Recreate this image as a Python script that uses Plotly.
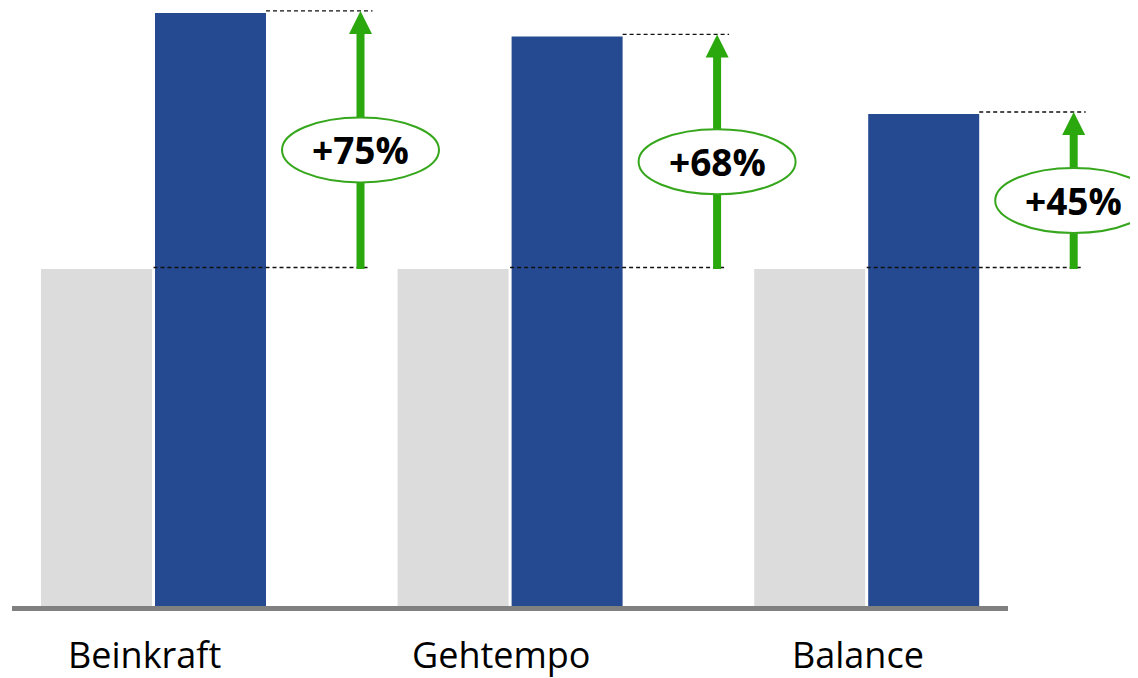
import plotly.graph_objects as go

# ---- data ----
categories = ["Beinkraft", "Gehtempo", "Balance"]
baseline = [100, 100, 100]
after = [176, 169, 146]
gain_labels = ["+75%", "+68%", "+45%"]

# ---- layout constants (pixels) ----
OFF = 8                       # page body margin of the browser
W, H = 1138 - OFF, 678 - OFF  # figure size so the page does not overflow
PX_X = 356.6                  # pixels per category step
X0 = 153.5 - OFF              # figure pixel of category 0 centre
PX_Y = 3.37                   # pixels per value unit
Y0 = 606 - OFF                # figure pixel of value 0

def dx(px):
    return px / PX_X

def dy(px):
    return px / PX_Y

BLUE = "#254A91"
GRAY = "#DCDCDC"
GREEN = "#2BA80E"
GREEN_RING = "#36A71C"
FONT = "Open Sans"

BARGAP = 1 - 228 / PX_X
idx = list(range(len(categories)))

fig = go.Figure()
fig.add_bar(x=idx, y=baseline, marker_color=GRAY, marker_line_width=0, name="vorher", hoverinfo="skip")
fig.add_bar(x=idx, y=after, marker_color=BLUE, marker_line_width=0, name="nachher", hoverinfo="skip")

shapes = []
annotations = []
group_w = 1 - BARGAP
DASH = dict(color="#111111", width=1.3, dash="4px,3px")
for i, (b, a, lab, cat) in enumerate(zip(baseline, after, gain_labels, categories)):
    ax = i + dx(207)
    blue_right = i + group_w / 2 - dx(1.5)
    # dashed reference lines
    shapes.append(dict(type="line", xref="x", yref="y", x0=blue_right, x1=ax + dx(12),
                       y0=a + dy(2), y1=a + dy(2), line=DASH, layer="above"))
    shapes.append(dict(type="line", xref="x", yref="y", x0=i, x1=ax + dx(9),
                       y0=b + dy(1.5), y1=b + dy(1.5), line=DASH, layer="above"))
    # arrow shaft
    shapes.append(dict(type="line", xref="x", yref="y", x0=ax, x1=ax, y0=b, y1=a - dy(20),
                       line=dict(color=GREEN, width=8), layer="above"))
    # arrow head
    tip = a + dy(2)
    hb = tip - dy(23)
    shapes.append(dict(type="path", xref="x", yref="y",
                       path=f"M {ax - dx(11.5)},{hb} L {ax + dx(11.5)},{hb} L {ax},{tip} Z",
                       fillcolor=GREEN, line=dict(width=0), layer="above"))
    # ellipse
    ecy = (a + b) / 2 - dy(9)
    shapes.append(dict(type="circle", xref="x", yref="y",
                       x0=ax - dx(78.5), x1=ax + dx(78.5), y0=ecy - dy(32.5), y1=ecy + dy(32.5),
                       fillcolor="white", line=dict(color=GREEN_RING, width=2), layer="above"))
    annotations.append(dict(x=ax, y=ecy, xref="x", yref="y", text=lab, showarrow=False,
                            font=dict(family=FONT, size=37, color="black", weight=700),
                            xanchor="center", yanchor="middle"))
    # category label
    annotations.append(dict(x=i, y=-dy(48), xref="x", yref="y", text=cat, showarrow=False,
                            xshift=-9, font=dict(family=FONT, size=36, color="black"),
                            xanchor="center", yanchor="middle"))

# baseline axis line
shapes.append(dict(type="line", xref="x", yref="y", x0=dx(12 - OFF - X0), x1=dx(1008 - OFF - X0),
                   y0=-dy(2.5), y1=-dy(2.5), line=dict(color="#808080", width=5), layer="above"))

fig.update_layout(
    width=W, height=H,
    margin=dict(l=0, r=0, t=0, b=0),
    paper_bgcolor="white", plot_bgcolor="white",
    barmode="group", bargap=BARGAP, bargroupgap=3 / 114,
    showlegend=False,
    shapes=shapes, annotations=annotations,
    xaxis=dict(range=[dx(-X0), dx(W - X0)], visible=False, fixedrange=True),
    yaxis=dict(range=[dy(Y0 - H), dy(Y0)], visible=False, fixedrange=True),
)

fig.write_html("out.html", config={"displayModeBar": False})
